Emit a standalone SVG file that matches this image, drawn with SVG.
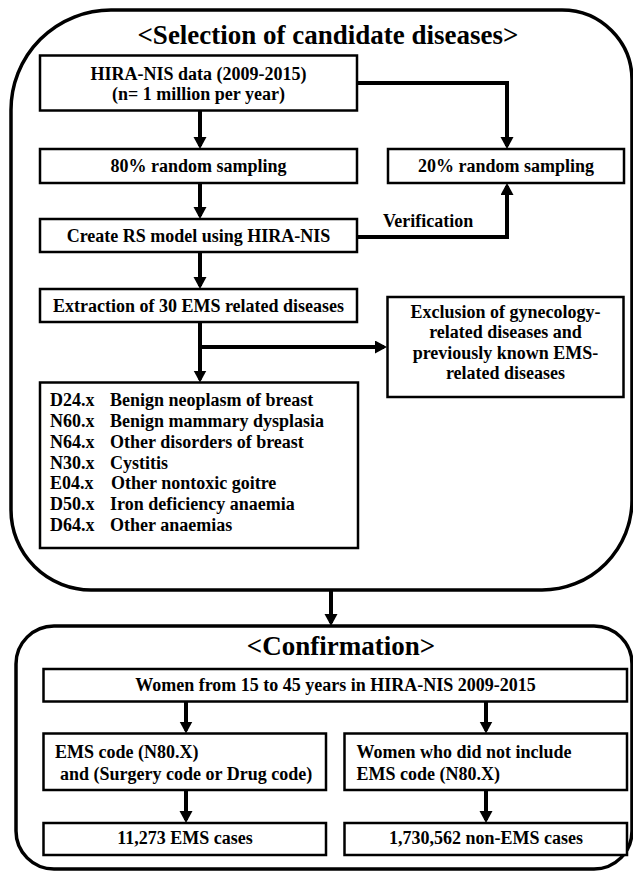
<svg xmlns="http://www.w3.org/2000/svg" width="633" height="871" viewBox="0 0 633 871">
<style>
text{font-family:"Liberation Serif","Times New Roman",serif;font-weight:bold;fill:#000}
.t{font-size:18px}
.c{text-anchor:middle}
.h{font-size:27px;text-anchor:middle}
.box{fill:#fff;stroke:#000;stroke-width:2.5}
.outer{fill:none;stroke:#000;stroke-width:3.5}
.con{fill:none;stroke:#000;stroke-width:4}
.arr{marker-end:url(#ah)}
</style>
<defs>
<marker id="ah" markerUnits="userSpaceOnUse" markerWidth="13" markerHeight="14" refX="9" refY="6.5" orient="auto">
<path d="M0,0 L12,6.5 L0,13 Z" fill="#000"/>
</marker>
</defs>
<rect width="633" height="871" fill="#fff"/>
<g id="selection-panel">
<path class="outer" d="M111,10 H562 A70,70 0 0 1 632,80 V500 A90,90 0 0 1 542,590 H91 A80,80 0 0 1 11,510 V110 A100,100 0 0 1 111,10 Z"/>
<text class="h" x="328" y="44">&lt;Selection of candidate diseases&gt;</text>
</g>
<g id="confirmation-panel">
<rect class="outer" x="16" y="626" width="616" height="243" rx="38" ry="38"/>
<text class="h" x="341" y="655">&lt;Confirmation&gt;</text>
</g>
<g id="connectors">
<line class="con arr" x1="200" y1="110" x2="200" y2="146"/>
<polyline class="con arr" points="357,83 507,83 507,146"/>
<line class="con arr" x1="200" y1="183" x2="200" y2="216"/>
<polyline class="con arr" points="357,237 507,237 507,186"/>
<line class="con arr" x1="200" y1="252" x2="200" y2="286"/>
<line class="con arr" x1="200" y1="322" x2="200" y2="379.5"/>
<line class="con arr" x1="198" y1="347" x2="384" y2="347"/>
<line class="con arr" x1="331" y1="590" x2="331" y2="623"/>
<line class="con arr" x1="186" y1="701.5" x2="186" y2="730.5"/>
<line class="con arr" x1="486" y1="701.5" x2="486" y2="730.5"/>
<line class="con arr" x1="186" y1="790" x2="186" y2="820"/>
<line class="con arr" x1="486" y1="790" x2="486" y2="820"/>
<text class="t" x="383" y="227">Verification</text>
</g>
<g id="hira-nis">
<rect class="box" x="40" y="55.5" width="317" height="55"/>
<text class="t c" x="198.5" y="80">HIRA-NIS data (2009-2015)</text>
<text class="t c" x="198.5" y="100">(n= 1 million per year)</text>
</g>
<g id="sampling-80">
<rect class="box" x="40" y="149" width="317" height="34"/>
<text class="t c" x="198.5" y="172">80% random sampling</text>
</g>
<g id="sampling-20">
<rect class="box" x="388" y="149" width="236" height="34"/>
<text class="t c" x="506" y="172">20% random sampling</text>
</g>
<g id="rs-model">
<rect class="box" x="40" y="219" width="317" height="33"/>
<text class="t c" x="198.5" y="242">Create RS model using HIRA-NIS</text>
</g>
<g id="extraction">
<rect class="box" x="40" y="289" width="317" height="33"/>
<text class="t c" x="198.5" y="312">Extraction of 30 EMS related diseases</text>
</g>
<g id="exclusion">
<rect class="box" x="387.5" y="297" width="236" height="100"/>
<text class="t c" x="505.5" y="317.5">Exclusion of gynecology-</text>
<text class="t c" x="505.5" y="338">related diseases and</text>
<text class="t c" x="505.5" y="358.5">previously known EMS-</text>
<text class="t c" x="505.5" y="379">related diseases</text>
</g>
<g id="disease-list">
<rect class="box" x="40" y="382.5" width="318" height="165.5"/>
<text class="t" x="50" y="406">D24.x</text><text class="t" x="110" y="406">Benign neoplasm of breast</text>
<text class="t" x="50" y="427">N60.x</text><text class="t" x="110" y="427">Benign mammary dysplasia</text>
<text class="t" x="50" y="447.5">N64.x</text><text class="t" x="110" y="447.5">Other disorders of breast</text>
<text class="t" x="50" y="468.5">N30.x</text><text class="t" x="110" y="468.5">Cystitis</text>
<text class="t" x="50" y="489">E04.x</text><text class="t" x="111" y="489">Other nontoxic goitre</text>
<text class="t" x="50" y="510">D50.x</text><text class="t" x="110" y="510">Iron deficiency anaemia</text>
<text class="t" x="50" y="531">D64.x</text><text class="t" x="110" y="531">Other anaemias</text>
</g>
<g id="women">
<rect class="box" x="43.5" y="669" width="583.5" height="32.5"/>
<text class="t c" x="335.5" y="691">Women from 15 to 45 years in HIRA-NIS 2009-2015</text>
</g>
<g id="ems-code">
<rect class="box" x="43.5" y="733.5" width="282.5" height="56.5"/>
<text class="t" x="55" y="758">EMS code (N80.X)</text>
<text class="t" x="60" y="780">and (Surgery code or Drug code)</text>
</g>
<g id="no-ems-code">
<rect class="box" x="344.5" y="733.5" width="282.5" height="56.5"/>
<text class="t" x="356.5" y="758">Women who did not include</text>
<text class="t" x="356.5" y="780">EMS code (N80.X)</text>
</g>
<g id="ems-cases">
<rect class="box" x="43.5" y="823" width="282.5" height="32"/>
<text class="t c" x="185" y="844">11,273 EMS cases</text>
</g>
<g id="non-ems-cases">
<rect class="box" x="344.5" y="823" width="282.5" height="32"/>
<text class="t c" x="486" y="844">1,730,562 non-EMS cases</text>
</g>
</svg>
